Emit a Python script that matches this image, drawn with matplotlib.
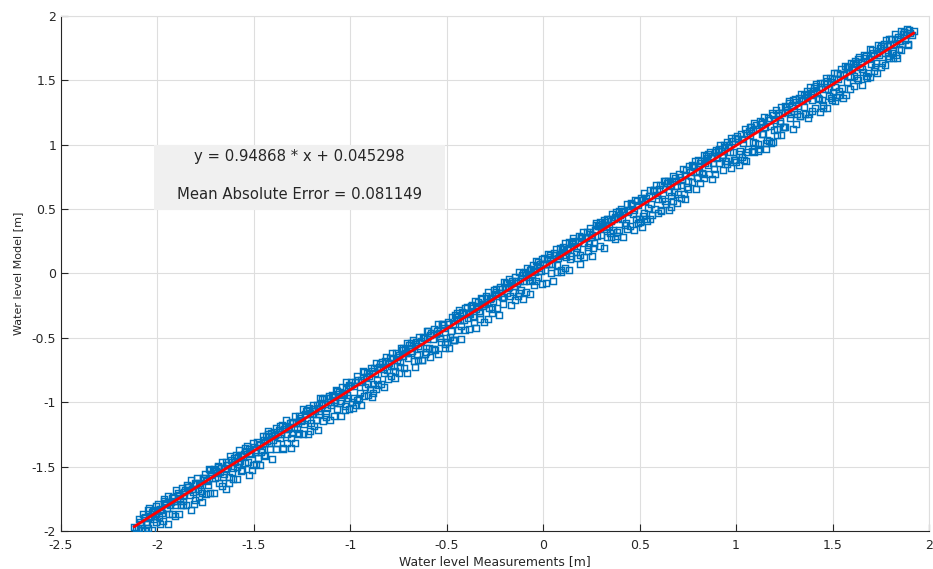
import numpy as np
import matplotlib.pyplot as plt
from matplotlib.patches import Rectangle

# water level: measured vs modelled [m]
measured = [
    -2.12, -2.11,
    -2.10, -2.09, -2.08, -2.07, -2.06, -2.05, -2.04, -2.03, -2.02, -2.01,
    -2.00, -1.99, -1.98, -1.97, -1.96, -1.95, -1.94, -1.93, -1.92, -1.91,
    -1.90, -1.89, -1.88, -1.87, -1.86, -1.85, -1.84, -1.83, -1.82, -1.81,
    -1.80, -1.79, -1.78, -1.77, -1.76, -1.75, -1.74, -1.73, -1.72, -1.71,
    -1.70, -1.69, -1.68, -1.67, -1.66, -1.65, -1.64, -1.63, -1.62, -1.61,
    -1.60, -1.59, -1.58, -1.57, -1.56, -1.55, -1.54, -1.53, -1.52, -1.51,
    -1.50, -1.49, -1.48, -1.47, -1.46, -1.45, -1.44, -1.43, -1.42, -1.41,
    -1.40, -1.39, -1.38, -1.37, -1.36, -1.35, -1.34, -1.33, -1.32, -1.31,
    -1.30, -1.29, -1.28, -1.27, -1.26, -1.25, -1.24, -1.23, -1.22, -1.21,
    -1.20, -1.19, -1.18, -1.17, -1.16, -1.15, -1.14, -1.13, -1.12, -1.11,
    -1.10, -1.09, -1.08, -1.07, -1.06, -1.05, -1.04, -1.03, -1.02, -1.01,
    -1.00, -0.99, -0.98, -0.97, -0.96, -0.95, -0.94, -0.93, -0.92, -0.91,
    -0.90, -0.89, -0.88, -0.87, -0.86, -0.85, -0.84, -0.83, -0.82, -0.81,
    -0.80, -0.79, -0.78, -0.77, -0.76, -0.75, -0.74, -0.73, -0.72, -0.71,
    -0.70, -0.69, -0.68, -0.67, -0.66, -0.65, -0.64, -0.63, -0.62, -0.61,
    -0.60, -0.59, -0.58, -0.57, -0.56, -0.55, -0.54, -0.53, -0.52, -0.51,
    -0.50, -0.49, -0.48, -0.47, -0.46, -0.45, -0.44, -0.43, -0.42, -0.41,
    -0.40, -0.39, -0.38, -0.37, -0.36, -0.35, -0.34, -0.33, -0.32, -0.31,
    -0.30, -0.29, -0.28, -0.27, -0.26, -0.25, -0.24, -0.23, -0.22, -0.21,
    -0.20, -0.19, -0.18, -0.17, -0.16, -0.15, -0.14, -0.13, -0.12, -0.11,
    -0.10, -0.09, -0.08, -0.07, -0.06, -0.05, -0.04, -0.03, -0.02, -0.01,
    0.00, 0.01, 0.02, 0.03, 0.04, 0.05, 0.06, 0.07, 0.08, 0.09,
    0.10, 0.11, 0.12, 0.13, 0.14, 0.15, 0.16, 0.17, 0.18, 0.19,
    0.20, 0.21, 0.22, 0.23, 0.24, 0.25, 0.26, 0.27, 0.28, 0.29,
    0.30, 0.31, 0.32, 0.33, 0.34, 0.35, 0.36, 0.37, 0.38, 0.39,
    0.40, 0.41, 0.42, 0.43, 0.44, 0.45, 0.46, 0.47, 0.48, 0.49,
    0.50, 0.51, 0.52, 0.53, 0.54, 0.55, 0.56, 0.57, 0.58, 0.59,
    0.60, 0.61, 0.62, 0.63, 0.64, 0.65, 0.66, 0.67, 0.68, 0.69,
    0.70, 0.71, 0.72, 0.73, 0.74, 0.75, 0.76, 0.77, 0.78, 0.79,
    0.80, 0.81, 0.82, 0.83, 0.84, 0.85, 0.86, 0.87, 0.88, 0.89,
    0.90, 0.91, 0.92, 0.93, 0.94, 0.95, 0.96, 0.97, 0.98, 0.99,
    1.00, 1.01, 1.02, 1.03, 1.04, 1.05, 1.06, 1.07, 1.08, 1.09,
    1.10, 1.11, 1.12, 1.13, 1.14, 1.15, 1.16, 1.17, 1.18, 1.19,
    1.20, 1.21, 1.22, 1.23, 1.24, 1.25, 1.26, 1.27, 1.28, 1.29,
    1.30, 1.31, 1.32, 1.33, 1.34, 1.35, 1.36, 1.37, 1.38, 1.39,
    1.40, 1.41, 1.42, 1.43, 1.44, 1.45, 1.46, 1.47, 1.48, 1.49,
    1.50, 1.51, 1.52, 1.53, 1.54, 1.55, 1.56, 1.57, 1.58, 1.59,
    1.60, 1.61, 1.62, 1.63, 1.64, 1.65, 1.66, 1.67, 1.68, 1.69,
    1.70, 1.71, 1.72, 1.73, 1.74, 1.75, 1.76, 1.77, 1.78, 1.79,
    1.80, 1.81, 1.82, 1.83, 1.84, 1.85, 1.86, 1.87, 1.88, 1.89,
    1.90, 1.91, 1.92,
    -2.095, -2.085, -2.075, -2.065, -2.055, -2.045, -2.035, -2.025, -2.015, -2.005,
    -1.995, -1.985, -1.975, -1.965, -1.955, -1.945, -1.935, -1.925, -1.915, -1.905,
    -1.895, -1.885, -1.875, -1.865, -1.855, -1.845, -1.835, -1.825, -1.815, -1.805,
    -1.795, -1.785, -1.775, -1.765, -1.755, -1.745, -1.735, -1.725, -1.715, -1.705,
    -1.695, -1.685, -1.675, -1.665, -1.655, -1.645, -1.635, -1.625, -1.615, -1.605,
    -1.595, -1.585, -1.575, -1.565, -1.555, -1.545, -1.535, -1.525, -1.515, -1.505,
    -1.495, -1.485, -1.475, -1.465, -1.455, -1.445, -1.435, -1.425, -1.415, -1.405,
    -1.395, -1.385, -1.375, -1.365, -1.355, -1.345, -1.335, -1.325, -1.315, -1.305,
    -1.295, -1.285, -1.275, -1.265, -1.255, -1.245, -1.235, -1.225, -1.215, -1.205,
    -1.195, -1.185, -1.175, -1.165, -1.155, -1.145, -1.135, -1.125, -1.115, -1.105,
    -1.095, -1.085, -1.075, -1.065, -1.055, -1.045, -1.035, -1.025, -1.015, -1.005,
    -0.995, -0.985, -0.975, -0.965, -0.955, -0.945, -0.935, -0.925, -0.915, -0.905,
    -0.895, -0.885, -0.875, -0.865, -0.855, -0.845, -0.835, -0.825, -0.815, -0.805,
    -0.795, -0.785, -0.775, -0.765, -0.755, -0.745, -0.735, -0.725, -0.715, -0.705,
    -0.695, -0.685, -0.675, -0.665, -0.655, -0.645, -0.635, -0.625, -0.615, -0.605,
    -0.595, -0.585, -0.575, -0.565, -0.555, -0.545, -0.535, -0.525, -0.515, -0.505,
    -0.495, -0.485, -0.475, -0.465, -0.455, -0.445, -0.435, -0.425, -0.415, -0.405,
    -0.395, -0.385, -0.375, -0.365, -0.355, -0.345, -0.335, -0.325, -0.315, -0.305,
    -0.295, -0.285, -0.275, -0.265, -0.255, -0.245, -0.235, -0.225, -0.215, -0.205,
    -0.195, -0.185, -0.175, -0.165, -0.155, -0.145, -0.135, -0.125, -0.115, -0.105,
    -0.095, -0.085, -0.075, -0.065, -0.055, -0.045, -0.035, -0.025, -0.015, -0.005,
    0.005, 0.015, 0.025, 0.035, 0.045, 0.055, 0.065, 0.075, 0.085, 0.095,
    0.105, 0.115, 0.125, 0.135, 0.145, 0.155, 0.165, 0.175, 0.185, 0.195,
    0.205, 0.215, 0.225, 0.235, 0.245, 0.255, 0.265, 0.275, 0.285, 0.295,
    0.305, 0.315, 0.325, 0.335, 0.345, 0.355, 0.365, 0.375, 0.385, 0.395,
    0.405, 0.415, 0.425, 0.435, 0.445, 0.455, 0.465, 0.475, 0.485, 0.495,
    0.505, 0.515, 0.525, 0.535, 0.545, 0.555, 0.565, 0.575, 0.585, 0.595,
    0.605, 0.615, 0.625, 0.635, 0.645, 0.655, 0.665, 0.675, 0.685, 0.695,
    0.705, 0.715, 0.725, 0.735, 0.745, 0.755, 0.765, 0.775, 0.785, 0.795,
    0.805, 0.815, 0.825, 0.835, 0.845, 0.855, 0.865, 0.875, 0.885, 0.895,
    0.905, 0.915, 0.925, 0.935, 0.945, 0.955, 0.965, 0.975, 0.985, 0.995,
    1.005, 1.015, 1.025, 1.035, 1.045, 1.055, 1.065, 1.075, 1.085, 1.095,
    1.105, 1.115, 1.125, 1.135, 1.145, 1.155, 1.165, 1.175, 1.185, 1.195,
    1.205, 1.215, 1.225, 1.235, 1.245, 1.255, 1.265, 1.275, 1.285, 1.295,
    1.305, 1.315, 1.325, 1.335, 1.345, 1.355, 1.365, 1.375, 1.385, 1.395,
    1.405, 1.415, 1.425, 1.435, 1.445, 1.455, 1.465, 1.475, 1.485, 1.495,
    1.505, 1.515, 1.525, 1.535, 1.545, 1.555, 1.565, 1.575, 1.585, 1.595,
    1.605, 1.615, 1.625, 1.635, 1.645, 1.655, 1.665, 1.675, 1.685, 1.695,
    1.705, 1.715, 1.725, 1.735, 1.745, 1.755, 1.765, 1.775, 1.785, 1.795,
    1.805, 1.815, 1.825, 1.835, 1.845, 1.855, 1.865, 1.875, 1.885, 1.895,
    -2.087, -2.067, -2.047, -2.027, -2.007, -1.987, -1.967, -1.947, -1.927, -1.907,
    -1.887, -1.867, -1.847, -1.827, -1.807, -1.787, -1.767, -1.747, -1.727, -1.707,
    -1.687, -1.667, -1.647, -1.627, -1.607, -1.587, -1.567, -1.547, -1.527, -1.507,
    -1.487, -1.467, -1.447, -1.427, -1.407, -1.387, -1.367, -1.347, -1.327, -1.307,
    -1.287, -1.267, -1.247, -1.227, -1.207, -1.187, -1.167, -1.147, -1.127, -1.107,
    -1.087, -1.067, -1.047, -1.027, -1.007, -0.987, -0.967, -0.947, -0.927, -0.907,
    -0.887, -0.867, -0.847, -0.827, -0.807, -0.787, -0.767, -0.747, -0.727, -0.707,
    -0.687, -0.667, -0.647, -0.627, -0.607, -0.587, -0.567, -0.547, -0.527, -0.507,
    -0.487, -0.467, -0.447, -0.427, -0.407, -0.387, -0.367, -0.347, -0.327, -0.307,
    -0.287, -0.267, -0.247, -0.227, -0.207, -0.187, -0.167, -0.147, -0.127, -0.107,
    -0.087, -0.067, -0.047, -0.027, -0.007, 0.013, 0.033, 0.053, 0.073, 0.093,
    0.113, 0.133, 0.153, 0.173, 0.193, 0.213, 0.233, 0.253, 0.273, 0.293,
    0.313, 0.333, 0.353, 0.373, 0.393, 0.413, 0.433, 0.453, 0.473, 0.493,
    0.513, 0.533, 0.553, 0.573, 0.593, 0.613, 0.633, 0.653, 0.673, 0.693,
    0.713, 0.733, 0.753, 0.773, 0.793, 0.813, 0.833, 0.853, 0.873, 0.893,
    0.913, 0.933, 0.953, 0.973, 0.993, 1.013, 1.033, 1.053, 1.073, 1.093,
    1.113, 1.133, 1.153, 1.173, 1.193, 1.213, 1.233, 1.253, 1.273, 1.293,
    1.313, 1.333, 1.353, 1.373, 1.393, 1.413, 1.433, 1.453, 1.473, 1.493,
    1.513, 1.533, 1.553, 1.573, 1.593, 1.613, 1.633, 1.653, 1.673, 1.693,
    1.713, 1.733, 1.753, 1.773, 1.793, 1.813, 1.833, 1.853, 1.873, 1.893,
]
modelled = [
    -1.97, -1.98,
    -1.98, -1.93, -1.99, -1.90, -1.93, -1.98, -1.89, -1.85, -1.91, -1.87,
    -1.835, -1.895, -1.835, -1.925, -1.785, -1.825, -1.865, -1.775, -1.735, -1.795,
    -1.77, -1.72, -1.80, -1.73, -1.70, -1.80, -1.66, -1.72, -1.67, -1.79,
    -1.635, -1.675, -1.645, -1.705, -1.585, -1.605, -1.645, -1.705, -1.565, -1.525,
    -1.59, -1.55, -1.63, -1.51, -1.58, -1.52, -1.49, -1.63, -1.45, -1.51,
    -1.465, -1.505, -1.425, -1.455, -1.525, -1.405, -1.375, -1.465, -1.395, -1.525,
    -1.35, -1.37, -1.43, -1.33, -1.37, -1.29, -1.42, -1.30, -1.32, -1.24,
    -1.295, -1.255, -1.315, -1.215, -1.245, -1.355, -1.195, -1.245, -1.195, -1.275,
    -1.15, -1.20, -1.16, -1.25, -1.12, -1.14, -1.17, -1.07, -1.25, -1.08,
    -1.095, -1.055, -1.135, -1.045, -1.065, -1.005, -1.145, -1.015, -1.045, -0.955,
    -1.02, -0.96, -0.98, -1.05, -0.92, -0.99, -0.93, -1.06, -0.90, -0.97,
    -0.875, -0.995, -0.875, -1.025, -0.825, -0.925, -0.845, -0.955, -0.805, -0.855,
    -0.90, -0.76, -0.93, -0.77, -0.83, -0.73, -0.86, -0.74, -0.68, -0.75,
    -0.695, -0.715, -0.655, -0.755, -0.675, -0.635, -0.685, -0.595, -0.735, -0.615,
    -0.66, -0.58, -0.60, -0.68, -0.53, -0.56, -0.58, -0.67, -0.50, -0.58,
    -0.505, -0.575, -0.465, -0.505, -0.595, -0.445, -0.465, -0.535, -0.395, -0.575,
    -0.53, -0.39, -0.45, -0.39, -0.52, -0.34, -0.44, -0.36, -0.30, -0.36,
    -0.305, -0.345, -0.315, -0.265, -0.375, -0.275, -0.225, -0.305, -0.235, -0.255,
    -0.24, -0.19, -0.27, -0.19, -0.21, -0.16, -0.27, -0.12, -0.15, -0.18,
    -0.105, -0.155, -0.105, -0.175, -0.055, -0.095, -0.055, -0.175, -0.055, -0.015,
    -0.06, -0.01, -0.03, 0.03, -0.05, 0.02, -0.06, 0.06, 0.04, 0.02,
    0.075, 0.025, 0.115, 0.075, 0.005, 0.115, 0.145, 0.065, 0.135, 0.025,
    0.14, 0.19, 0.13, 0.19, 0.11, 0.24, 0.21, 0.17, 0.25, 0.14,
    0.275, 0.235, 0.275, 0.205, 0.325, 0.285, 0.195, 0.335, 0.295, 0.365,
    0.30, 0.36, 0.40, 0.28, 0.37, 0.41, 0.34, 0.44, 0.29, 0.43,
    0.455, 0.425, 0.485, 0.395, 0.475, 0.365, 0.535, 0.495, 0.425, 0.535,
    0.40, 0.57, 0.47, 0.56, 0.41, 0.60, 0.54, 0.64, 0.50, 0.61,
    0.655, 0.495, 0.655, 0.565, 0.705, 0.635, 0.515, 0.715, 0.635, 0.715,
    0.62, 0.75, 0.73, 0.62, 0.80, 0.72, 0.79, 0.71, 0.83, 0.79,
    0.835, 0.795, 0.875, 0.775, 0.855, 0.895, 0.775, 0.895, 0.855, 0.945,
    0.90, 0.86, 0.95, 0.92, 0.98, 0.87, 0.98, 0.94, 1.03, 0.88,
    0.865, 1.045, 0.955, 1.045, 0.885, 1.095, 0.965, 1.075, 0.955, 1.115,
    1.01, 1.12, 0.97, 1.16, 1.08, 1.14, 1.04, 1.19, 1.01, 1.23,
    1.195, 1.125, 1.245, 1.185, 1.245, 1.135, 1.295, 1.255, 1.205, 1.305,
    1.26, 1.33, 1.30, 1.22, 1.35, 1.29, 1.39, 1.36, 1.24, 1.39,
    1.415, 1.285, 1.405, 1.355, 1.445, 1.285, 1.435, 1.495, 1.375, 1.485,
    1.41, 1.51, 1.37, 1.51, 1.55, 1.44, 1.55, 1.39, 1.60, 1.53,
    1.585, 1.535, 1.635, 1.505, 1.605, 1.645, 1.565, 1.675, 1.515, 1.665,
    1.63, 1.71, 1.60, 1.71, 1.70, 1.60, 1.77, 1.71, 1.77, 1.69,
    1.785, 1.715, 1.785, 1.695, 1.835, 1.805, 1.785, 1.875, 1.855, 1.775,
    1.87, 1.85, 1.88,
    -1.905, -1.945, -1.865, -1.895, -1.945, -1.825, -1.885, -1.845, -1.885, -1.805,
    -1.79, -1.83, -1.86, -1.77, -1.79, -1.73, -1.80, -1.74, -1.77, -1.68,
    -1.705, -1.745, -1.665, -1.765, -1.685, -1.645, -1.685, -1.605, -1.695, -1.625,
    -1.59, -1.63, -1.69, -1.59, -1.56, -1.61, -1.52, -1.56, -1.59, -1.52,
    -1.535, -1.495, -1.545, -1.465, -1.555, -1.465, -1.485, -1.415, -1.545, -1.435,
    -1.41, -1.48, -1.37, -1.41, -1.42, -1.47, -1.34, -1.36, -1.40, -1.32,
    -1.385, -1.305, -1.325, -1.385, -1.265, -1.315, -1.265, -1.225, -1.365, -1.265,
    -1.23, -1.20, -1.25, -1.28, -1.18, -1.21, -1.14, -1.21, -1.16, -1.24,
    -1.165, -1.105, -1.205, -1.105, -1.145, -1.055, -1.095, -1.135, -1.045, -1.165,
    -1.02, -1.07, -1.02, -1.09, -0.97, -1.02, -0.97, -1.08, -0.97, -1.00,
    -0.945, -0.995, -0.905, -0.935, -1.005, -0.885, -0.935, -0.845, -0.945, -0.865,
    -0.84, -0.97, -0.84, -0.80, -0.97, -0.83, -0.76, -0.88, -0.77, -0.80,
    -0.735, -0.855, -0.735, -0.695, -0.865, -0.725, -0.685, -0.775, -0.645, -0.695,
    -0.66, -0.62, -0.72, -0.62, -0.65, -0.73, -0.58, -0.64, -0.59, -0.54,
    -0.555, -0.615, -0.515, -0.545, -0.635, -0.495, -0.525, -0.495, -0.625, -0.445,
    -0.45, -0.48, -0.59, -0.43, -0.47, -0.39, -0.50, -0.40, -0.42, -0.50,
    -0.375, -0.495, -0.335, -0.515, -0.325, -0.365, -0.285, -0.405, -0.305, -0.265,
    -0.26, -0.31, -0.25, -0.34, -0.21, -0.25, -0.29, -0.19, -0.20, -0.24,
    -0.175, -0.145, -0.195, -0.275, -0.125, -0.145, -0.175, -0.105, -0.185, -0.065,
    -0.07, -0.11, -0.04, -0.07, -0.14, -0.03, -0.07, 0.01, -0.13, 0.00,
    0.015, 0.045, -0.055, 0.035, 0.065, 0.015, 0.095, -0.025, 0.075, 0.115,
    0.12, 0.07, 0.15, 0.13, 0.07, 0.16, 0.19, 0.12, 0.20, 0.17,
    0.205, 0.235, 0.185, 0.245, 0.135, 0.275, 0.245, 0.195, 0.295, 0.285,
    0.32, 0.28, 0.32, 0.24, 0.35, 0.30, 0.24, 0.39, 0.37, 0.40,
    0.385, 0.415, 0.345, 0.425, 0.315, 0.465, 0.425, 0.475, 0.325, 0.485,
    0.50, 0.48, 0.38, 0.54, 0.49, 0.54, 0.46, 0.57, 0.56, 0.42,
    0.585, 0.445, 0.625, 0.585, 0.505, 0.645, 0.455, 0.645, 0.685, 0.575,
    0.69, 0.58, 0.72, 0.54, 0.72, 0.69, 0.60, 0.76, 0.74, 0.68,
    0.775, 0.685, 0.815, 0.765, 0.675, 0.835, 0.755, 0.835, 0.875, 0.745,
    0.88, 0.86, 0.78, 0.92, 0.91, 0.84, 0.94, 0.91, 0.81, 0.96,
    0.955, 0.995, 0.905, 0.995, 0.875, 1.025, 0.995, 1.055, 0.945, 1.055,
    1.07, 0.93, 1.08, 1.01, 1.12, 0.94, 1.11, 1.14, 1.02, 1.17,
    1.155, 1.005, 1.185, 1.085, 1.215, 1.015, 1.205, 1.145, 1.245, 1.115,
    1.27, 1.23, 1.17, 1.29, 1.14, 1.30, 1.27, 1.34, 1.24, 1.35,
    1.355, 1.235, 1.365, 1.395, 1.345, 1.235, 1.415, 1.395, 1.445, 1.345,
    1.44, 1.47, 1.36, 1.48, 1.35, 1.48, 1.52, 1.43, 1.52, 1.35,
    1.555, 1.445, 1.555, 1.415, 1.585, 1.545, 1.615, 1.485, 1.605, 1.635,
    1.63, 1.65, 1.52, 1.68, 1.64, 1.59, 1.70, 1.69, 1.56, 1.74,
    1.735, 1.695, 1.635, 1.775, 1.755, 1.635, 1.785, 1.815, 1.715, 1.825,
    1.82, 1.73, 1.86, 1.82, 1.74, 1.88, 1.86, 1.81, 1.90, 1.89,
    -1.99, -2.00, -1.84, -1.99, -1.93, -1.945, -1.755, -1.945, -1.865, -1.885,
    -1.87, -1.80, -1.66, -1.84, -1.76, -1.735, -1.775, -1.715, -1.525, -1.705,
    -1.50, -1.65, -1.67, -1.58, -1.60, -1.595, -1.535, -1.355, -1.565, -1.485,
    -1.48, -1.49, -1.41, -1.25, -1.44, -1.365, -1.185, -1.365, -1.315, -1.355,
    -1.32, -1.24, -1.25, -1.06, -1.22, -1.185, -1.215, -0.975, -1.115, -1.135,
    -1.11, -0.91, -1.11, -1.03, -1.05, -1.045, -0.985, -1.025, -0.765, -0.945,
    -0.96, -0.90, -0.70, -0.88, -0.82, -0.795, -0.815, -0.775, -0.575, -0.775,
    -0.54, -0.73, -0.67, -0.67, -0.61, -0.645, -0.585, -0.625, -0.395, -0.545,
    -0.58, -0.52, -0.31, -0.51, -0.44, -0.435, -0.245, -0.425, -0.355, -0.375,
    -0.35, -0.31, -0.12, -0.32, -0.24, -0.075, -0.245, -0.205, -0.155, -0.195,
    -0.14, -0.16, -0.09, 0.09, -0.08, -0.075, 0.145, -0.055, 0.015, 0.015,
    0.04, 0.03, 0.25, 0.12, 0.07, 0.125, 0.175, 0.135, 0.375, 0.215,
    0.20, 0.42, 0.28, 0.27, 0.34, 0.285, 0.345, 0.545, 0.335, 0.395,
    0.36, 0.42, 0.42, 0.65, 0.47, 0.485, 0.715, 0.495, 0.565, 0.545,
    0.59, 0.58, 0.66, 0.84, 0.66, 0.705, 0.745, 0.925, 0.735, 0.775,
    0.97, 0.80, 0.85, 0.82, 0.88, 0.845, 0.905, 0.875, 1.135, 0.945,
    0.95, 1.18, 0.97, 1.03, 1.02, 1.075, 1.075, 1.135, 1.325, 1.125,
    1.16, 1.22, 1.39, 1.21, 1.26, 1.455, 1.255, 1.305, 1.285, 1.365,
    1.34, 1.39, 1.36, 1.60, 1.43, 1.455, 1.665, 1.465, 1.535, 1.525,
    1.57, 1.56, 1.77, 1.62, 1.67, 1.675, 1.675, 1.735, 1.875, 1.785,
]

# linear fit and error reported in the box
slope = 0.94868
intercept = 0.045298
mae = 0.081149

blue = '#0072BD'
dark = '#262626'

fig = plt.figure(figsize=(9.33, 5.69), dpi=100)
ax = fig.add_axes([0.0654, 0.0668, 0.9303, 0.9051])

ax.plot(measured, modelled, linestyle='none', marker='s', markersize=4.8,
        markerfacecolor='none', markeredgecolor=blue, markeredgewidth=1.05, zorder=3)

xfit = np.array([min(measured), max(measured)])
ax.plot(xfit, slope * xfit + intercept, color='r', linewidth=2, zorder=4)

# grey box with fit equation and error
ax.add_patch(Rectangle((-2.02, 0.495), 1.51, 0.505, facecolor='#f0f0f0',
                       edgecolor='none', zorder=2))
ax.text(-1.265, 0.905, 'y = %g * x + %g' % (slope, intercept), ha='center', va='center',
        fontsize=10.7, color=dark, zorder=5)
ax.text(-1.265, 0.617, 'Mean Absolute Error = %g' % mae, ha='center', va='center',
        fontsize=10.7, color=dark, zorder=5)

ax.set_xlim(-2.5, 2)
ax.set_ylim(-2, 2)
ax.set_xticks(np.arange(-2.5, 2.01, 0.5))
ax.set_yticks(np.arange(-2, 2.01, 0.5))
ax.set_xticklabels(['-2.5', '-2', '-1.5', '-1', '-0.5', '0', '0.5', '1', '1.5', '2'])
ax.set_yticklabels(['-2', '-1.5', '-1', '-0.5', '0', '0.5', '1', '1.5', '2'])
ax.tick_params(direction='in', length=5, width=0.8, colors=dark, labelsize=9)
ax.tick_params(axis='x', pad=6)
ax.grid(True, color='#dedede', linewidth=0.8)
ax.set_axisbelow(True)

for side in ['left', 'bottom']:
    ax.spines[side].set_color(dark)
    ax.spines[side].set_linewidth(0.8)
for side in ['top', 'right']:
    ax.spines[side].set_color('#dedede')
    ax.spines[side].set_linewidth(0.8)

ax.set_xlabel('Water level Measurements [m]', fontsize=8.9, color=dark, labelpad=2)
ax.set_ylabel('Water level Model [m]', fontsize=8, color=dark, labelpad=6)

plt.savefig('out.png', dpi=100)
